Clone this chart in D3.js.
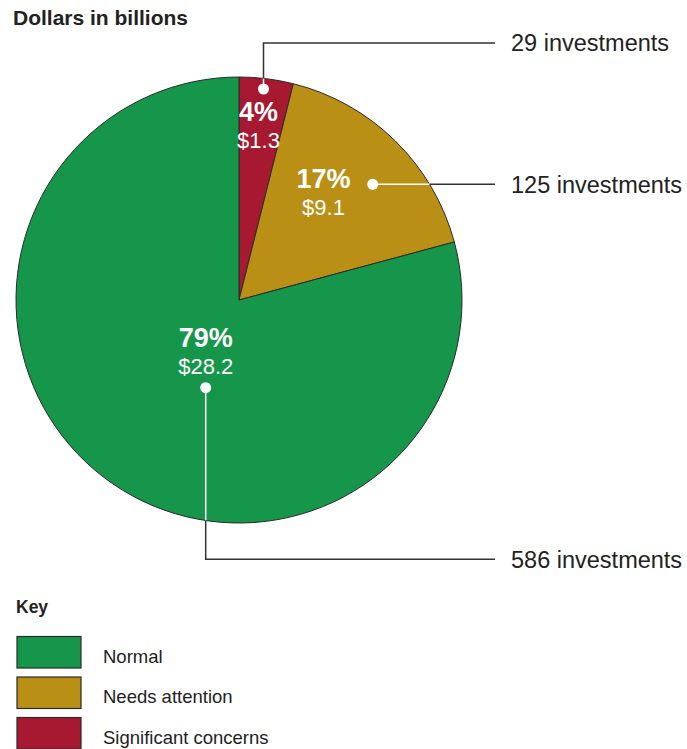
<!DOCTYPE html>
<html>
<head>
<meta charset="utf-8">
<script src="https://cdn.jsdelivr.net/npm/d3@7/dist/d3.min.js"></script>
<style>
  html, body { margin: 0; padding: 0; background: #fff; }
  svg { display: block; font-family: "Liberation Sans", Arial, Helvetica, sans-serif; }
</style>
</head>
<body>
<svg id="chart" width="687" height="749"></svg>
<script>
// ---- Data ----
const categories = ["Significant concerns", "Needs attention", "Normal"];
const investments = [29, 125, 586];
const percents = [4, 17, 79];
const dollars = [1.3, 9.1, 28.2];
const legendOrder = ["Normal", "Needs attention", "Significant concerns"];
const title = "Dollars in billions";

// ---- Styles ----
const colors = d3.scaleOrdinal()
  .domain(categories)
  .range(["#a71930", "#b98f16", "#15964a"]);

const svg = d3.select("#chart");
const cx = 239, cy = 300, R = 223;

svg.append("text")
  .attr("x", 13).attr("y", 25)
  .attr("font-size", 21).attr("font-weight", "bold").attr("fill", "#222")
  .text(title);

const pieData = d3.pie().sort(null).value(d => d.count)(
  categories.map((c, i) => ({ cat: c, count: investments[i], pct: percents[i], usd: dollars[i] }))
);
const arc = d3.arc().innerRadius(0).outerRadius(R);

const g = svg.append("g").attr("transform", `translate(${cx},${cy})`);
g.selectAll("path.slice").data(pieData).join("path")
  .attr("class", "slice")
  .attr("d", arc)
  .attr("fill", d => colors(d.data.cat))
  .attr("stroke", "#2a2a2a")
  .attr("stroke-width", 1);

// ---- Annotation layout (relative to pie centre) ----
const ann = {
  "Significant concerns": { dot: [24.5, -211], lab: [19.5, -179], path: "up" },
  "Needs attention":      { dot: [133.7, -115.7], lab: [84.5, -112], path: "right" },
  "Normal":               { dot: [-33.3, 87.7], lab: [-33.3, 47], path: "down" }
};
const endX = 495 - cx;
const textX = 511 - cx;
const rowY = { "Significant concerns": 43 - cy, "Needs attention": 184.3 - cy, "Normal": 559.3 - cy };

pieData.forEach(d => {
  const a = ann[d.data.cat];
  const [dx, dy] = a.dot;
  let edge, darkPts;
  if (a.path === "up") {
    const ey = -Math.sqrt(R * R - dx * dx);
    edge = [dx, ey];
    darkPts = [[dx, ey], [dx, rowY[d.data.cat]], [endX, rowY[d.data.cat]]];
  } else if (a.path === "right") {
    const ex = Math.sqrt(R * R - dy * dy);
    edge = [ex, dy];
    darkPts = [[ex, dy], [endX, dy]];
  } else {
    const ey = Math.sqrt(R * R - dx * dx);
    edge = [dx, ey];
    darkPts = [[dx, ey], [dx, rowY[d.data.cat]], [endX, rowY[d.data.cat]]];
  }
  g.append("line")
    .attr("x1", dx).attr("y1", dy).attr("x2", edge[0]).attr("y2", edge[1])
    .attr("stroke", "#fff").attr("stroke-width", 1.5);
  g.append("path")
    .attr("d", d3.line()(darkPts))
    .attr("fill", "none").attr("stroke", "#333").attr("stroke-width", 1.5);
  g.append("circle").attr("cx", dx).attr("cy", dy).attr("r", 5.5).attr("fill", "#fff");

  g.append("text")
    .attr("x", textX).attr("y", (a.path === "right" ? dy : rowY[d.data.cat]))
    .attr("dy", "0.35em")
    .attr("font-size", 23.5).attr("fill", "#222")
    .text(`${d.data.count} investments`);

  const [lx, ly] = a.lab;
  g.append("text")
    .attr("x", lx).attr("y", ly)
    .attr("text-anchor", "middle")
    .attr("font-size", 27).attr("font-weight", "bold").attr("fill", "#fff")
    .text(`${d.data.pct}%`);
  g.append("text")
    .attr("x", lx).attr("y", ly + 26.5)
    .attr("text-anchor", "middle")
    .attr("font-size", 22).attr("fill", "#fff")
    .text(`$${d.data.usd.toFixed(1)}`);
});

// ---- Legend ----
svg.append("text")
  .attr("x", 16).attr("y", 613)
  .attr("font-size", 17.5).attr("font-weight", "bold").attr("fill", "#222")
  .text("Key");

const leg = svg.append("g");
const legY = d3.scalePoint().domain(legendOrder).range([636.5, 717.5]);
leg.selectAll("rect").data(legendOrder).join("rect")
  .attr("x", 17).attr("y", d => legY(d))
  .attr("width", 64).attr("height", 31.5)
  .attr("fill", d => colors(d))
  .attr("stroke", "#2a2a2a").attr("stroke-width", 1.2);
leg.selectAll("text").data(legendOrder).join("text")
  .attr("x", 103).attr("y", d => legY(d) + 26)
  .attr("font-size", 18.5).attr("fill", "#222")
  .text(d => d);
</script>
</body>
</html>
